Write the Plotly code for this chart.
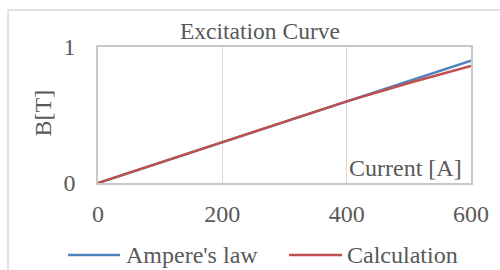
import plotly.graph_objects as go

current = [0, 100, 200, 300, 400, 500, 600]
ampere_law = [0, 0.15, 0.30, 0.45, 0.60, 0.75, 0.90]
calculation = [0, 0.15, 0.30, 0.45, 0.60, 0.735, 0.86]
x_ticks = [0, 200, 400, 600]
y_ticks = [0, 1]

W, H = 500, 270
L, R, T, B = 98, 29, 47, 87
PW, PH = W - L - R, H - T - B

def px(x):
    return (x - L) / PW

def py(y):
    return (H - B - y) / PH

FONT = "Liberation Serif, Times New Roman, serif"
TXT = "#595959"
GRID = "#d9d9d9"
BLUE = "#4F81BD"
RED = "#C0504D"

fig = go.Figure()
fig.add_trace(go.Scatter(x=current, y=ampere_law, mode="lines", name="Ampere's law",
                         line=dict(color=BLUE, width=2.5), showlegend=False))
fig.add_trace(go.Scatter(x=current, y=calculation, mode="lines", name="Calculation",
                         line=dict(color=RED, width=2.5), showlegend=False))

fig.update_layout(
    width=W, height=H,
    margin=dict(l=L, r=R, t=T, b=B),
    paper_bgcolor="white", plot_bgcolor="white",
    font=dict(family=FONT, size=24, color=TXT),
    showlegend=False,
)
fig.update_xaxes(range=[0, 600], tickvals=x_ticks, showgrid=True, gridcolor=GRID, gridwidth=1,
                 showline=True, linecolor="#c8c8c8", linewidth=1.5, zeroline=False,
                 ticks="", ticklabelstandoff=8, mirror=True, fixedrange=True)
fig.update_yaxes(range=[0, 1], tickvals=y_ticks, showgrid=True, gridcolor=GRID, gridwidth=1,
                 showline=True, linecolor="#c8c8c8", linewidth=1.5, zeroline=False,
                 ticks="", ticklabelstandoff=16, mirror=True, fixedrange=True)

# outer chart border
fig.add_shape(type="rect", xref="paper", yref="paper",
              x0=px(8), x1=px(520), y0=py(300), y1=py(10),
              line=dict(color=GRID, width=1.5), fillcolor="rgba(0,0,0,0)", layer="below")

annotations = [
    dict(text="Excitation Curve", x=px(260), y=py(31), xref="paper", yref="paper",
         xanchor="center", yanchor="middle", showarrow=False, font=dict(size=23.5, color=TXT)),
    dict(text="B[T]", x=px(42.5), y=py(113), xref="paper", yref="paper", textangle=-90,
         xanchor="center", yanchor="middle", showarrow=False, font=dict(size=24, color=TXT)),
    dict(text="Current [A]", x=px(464), y=py(183), xref="paper", yref="paper",
         xanchor="right", yanchor="bottom", showarrow=False, font=dict(size=24, color=TXT)),
    dict(text="Ampere's law", x=px(124), y=py(255), xref="paper", yref="paper",
         xanchor="left", yanchor="middle", showarrow=False, font=dict(size=24, color=TXT)),
    dict(text="Calculation", x=px(345), y=py(255), xref="paper", yref="paper",
         xanchor="left", yanchor="middle", showarrow=False, font=dict(size=24, color=TXT)),
]
for a in annotations:
    fig.add_annotation(**a)

# legend samples
fig.add_shape(type="line", xref="paper", yref="paper", x0=px(68), x1=px(120), y0=py(255), y1=py(255),
              line=dict(color=BLUE, width=2.5))
fig.add_shape(type="line", xref="paper", yref="paper", x0=px(289), x1=px(342), y0=py(255), y1=py(255),
              line=dict(color=RED, width=2.5))

fig.write_html("out.html", config=dict(displayModeBar=False),
               post_script="document.body.style.margin='0';document.body.style.overflow='hidden';")
